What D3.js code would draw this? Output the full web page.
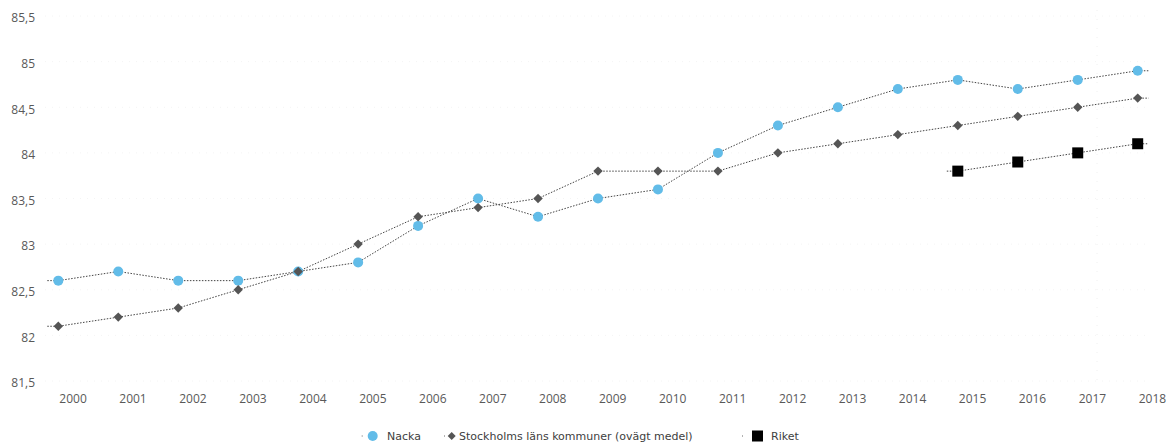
<!DOCTYPE html>
<html><head><meta charset="utf-8">
<script src="https://cdn.jsdelivr.net/npm/d3@7"></script>
<style>body{margin:0;background:#fff}svg{display:block}</style>
</head><body>
<svg id="c" width="1169" height="443"></svg>
<script>
const years = [2000,2001,2002,2003,2004,2005,2006,2007,2008,2009,2010,2011,2012,2013,2014,2015,2016,2017,2018];
const nacka = [82.6,82.7,82.6,82.6,82.7,82.8,83.2,83.5,83.3,83.5,83.6,84.0,84.3,84.5,84.7,84.8,84.7,84.8,84.9];
const stockholm = [82.1,82.2,82.3,82.5,82.7,83.0,83.3,83.4,83.5,83.8,83.8,83.8,84.0,84.1,84.2,84.3,84.4,84.5,84.6];
const riketYears = [2015,2016,2017,2018];
const riket = [83.8,83.9,84.0,84.1];
const yTicks = [81.5,82,82.5,83,83.5,84,84.5,85,85.5];
const seriesNames = ["Nacka","Stockholms läns kommuner (ovägt medel)","Riket"];

const svg = d3.select("#c");
const x = d3.scaleLinear().domain([2000,2018]).range([58.3,1137.7]);
const y = d3.scaleLinear().domain([81.5,85.5]).range([381,16]);
const fmt = v => String(v).replace(".", ",");

// faint gridlines
svg.append("g").selectAll("line").data(yTicks).join("line")
  .attr("x1",45).attr("x2",1150).attr("y1",d=>y(d)).attr("y2",d=>y(d))
  .attr("stroke","#f4f4f4").attr("stroke-dasharray","1,6");
svg.append("line").attr("x1",1097).attr("x2",1097).attr("y1",10).attr("y2",385)
  .attr("stroke","#f0f0f0").attr("stroke-dasharray","1,8");

// y axis labels
const yAxis = d3.axisLeft(y).tickValues(yTicks).tickFormat(fmt).tickSize(0).tickPadding(0);
const gy = svg.append("g").attr("transform","translate(35,2)").call(yAxis);
gy.select(".domain").remove();
gy.selectAll("text").attr("font-family","Open Sans, sans-serif").attr("font-size",12).attr("fill","#595959");

// x axis labels
const xAxis = d3.axisBottom(x).tickValues(years).tickFormat(d=>String(d)).tickSize(0).tickPadding(0);
const gx = svg.append("g").attr("transform","translate(0,394)").call(xAxis);
gx.select(".domain").remove();
gx.selectAll("text").attr("font-family","Open Sans, sans-serif").attr("font-size",12).attr("fill","#595959")
  .attr("text-anchor","start").attr("dx",0.5);

// lines with end stubs
function drawLine(xs, vs){
  const pts = xs.map((yr,i)=>[x(yr), y(vs[i])]);
  const ext = [[pts[0][0]-11, pts[0][1]], ...pts, [pts[pts.length-1][0]+11, pts[pts.length-1][1]]];
  svg.append("path").attr("d", d3.line()(ext)).attr("fill","none")
    .attr("stroke","#444").attr("stroke-width",1).attr("stroke-dasharray","1.5,1.5");
}
drawLine(years, nacka);
drawLine(years, stockholm);
drawLine(riketYears, riket);

const blue = "#62BCE8", gray = "#555555";
svg.append("g").selectAll("circle").data(years).join("circle")
  .attr("cx",(d)=>x(d)).attr("cy",(d,i)=>y(nacka[i])).attr("r",5).attr("fill",blue);
svg.append("g").selectAll("path").data(years).join("path")
  .attr("transform",(d,i)=>`translate(${x(d)},${y(stockholm[i])}) rotate(45)`)
  .attr("d",d3.symbol(d3.symbolSquare,44)()).attr("fill",gray);
svg.append("g").selectAll("rect").data(riketYears).join("rect")
  .attr("x",d=>x(d)-5.5).attr("y",(d,i)=>y(riket[i])-5.5).attr("width",11).attr("height",11).attr("fill","#000");

// legend
const lg = svg.append("g").attr("font-family","DejaVu Sans, sans-serif").attr("font-size",11).attr("fill","#404040");
const ly = 436;
const stubs = [362.7,445,743];
stubs.forEach(s=> lg.append("line").attr("x1",s-1).attr("x2",s+1).attr("y1",ly).attr("y2",ly).attr("stroke","#666").attr("stroke-dasharray","1,1"));
lg.append("circle").attr("cx",372.7).attr("cy",ly).attr("r",5).attr("fill",blue);
lg.append("path").attr("transform",`translate(451.7,${ly}) rotate(45)`).attr("d",d3.symbol(d3.symbolSquare,32)()).attr("fill",gray);
lg.append("rect").attr("x",752).attr("y",ly-5.5).attr("width",11).attr("height",11).attr("fill","#000");
const tx = [387,459,771];
seriesNames.forEach((n,i)=> lg.append("text").attr("x",tx[i]).attr("y",ly).attr("dy","0.35em").text(n));
</script>
</body></html>
